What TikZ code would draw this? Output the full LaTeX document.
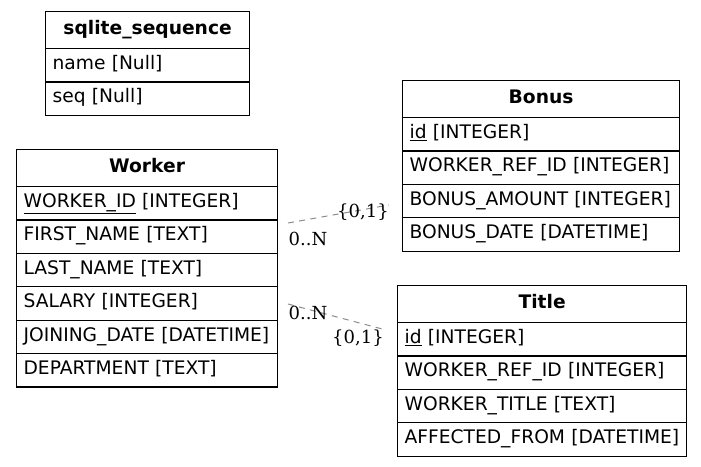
\documentclass[tikz,border=0pt]{standalone}
\usepackage{fontspec}
\setmainfont{DejaVu Sans}
\newfontfamily\lblfont{DejaVu Serif}
\definecolor{edgegray}{HTML}{8C8C8C}
\tikzset{
  hdr/.style={draw, line width=0.9pt, anchor=north west, inner sep=0pt,
    minimum height=27.75pt, text height=10.5pt, text depth=3.75pt,
    font=\fontsize{14}{17}\selectfont\bfseries},
  rowbox/.style={draw, line width=0.9pt, anchor=north west, inner ysep=0pt,
    inner xsep=5.25pt, align=left, minimum height=25.05pt,
    text height=10pt, text depth=3.75pt,
    font=\fontsize{14}{17}\selectfont},
  lbl/.style={inner sep=0pt, font=\lblfont\fontsize{13.5}{16}\selectfont},
  rel/.style={draw=edgegray, line width=0.75pt, dash pattern=on 4.5pt off 4pt}
}
\newcommand\ertable[6]{%
  \pgfmathsetlengthmacro\bw{#4*0.75}%
  \pgfmathsetlengthmacro\tw{(#4-14)*0.75}%
  \node[hdr, minimum width=\bw] (#1) at (#2,#3) {#5};
  \foreach \r [count=\i] in {#6} {
    \node[rowbox, text width=\tw] (#1-\i) at ({#2},{#3+37+33.4*(\i-1)}) {\r};
  }%
}
\begin{document}
\begin{tikzpicture}[x=0.75pt,y=-0.75pt]
\useasboundingbox (0,0) rectangle (701,467);
\ertable{seq}{45}{11}{204}{sqlite\_sequence}{name [Null],seq [Null]}
\ertable{worker}{16}{149}{261}{Worker}{\underline{WORKER\_ID} [INTEGER],FIRST\_NAME [TEXT],LAST\_NAME [TEXT],SALARY [INTEGER],JOINING\_DATE [DATETIME],DEPARTMENT [TEXT]}
\ertable{bonus}{402}{80}{277}{Bonus}{\underline{id} [INTEGER],WORKER\_REF\_ID [INTEGER],BONUS\_AMOUNT [INTEGER],BONUS\_DATE [DATETIME]}
\ertable{title}{397}{285}{289}{Title}{\underline{id} [INTEGER],WORKER\_REF\_ID [INTEGER],WORKER\_TITLE [TEXT],AFFECTED\_FROM [DATETIME]}
\coordinate (e1s) at (288,223);
\coordinate (e1t) at (389,205);
\coordinate (e2s) at (288,304);
\coordinate (e2t) at (386,330);
\draw[rel] (e1s) -- (e1t);
\draw[rel] (e2s) -- (e2t);
\node[lbl] (l1a) at (308,239) {0..N};
\node[lbl] (l1b) at (363,212) {\{0,1\}};
\node[lbl] (l2a) at (308,313) {0..N};
\node[lbl] (l2b) at (358,338) {\{0,1\}};
\end{tikzpicture}
\end{document}
